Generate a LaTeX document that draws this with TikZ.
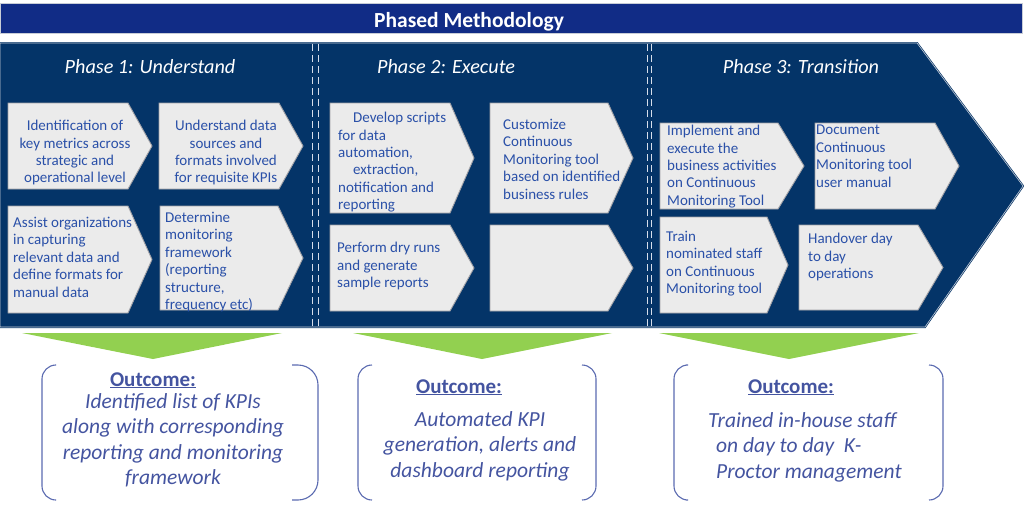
\documentclass[tikz,border=0pt]{standalone}
\usepackage{fontspec}
\setmainfont{Carlito}
\definecolor{titlebar}{RGB}{17,44,134}
\definecolor{navy}{RGB}{4,52,104}
\definecolor{edgelight}{RGB}{200,205,215}
\definecolor{boxfill}{RGB}{235,235,235}
\definecolor{boxline}{RGB}{160,160,165}
\definecolor{boxblue}{RGB}{42,80,168}
\definecolor{outblue}{RGB}{68,84,160}
\definecolor{brblue}{RGB}{90,106,176}
\definecolor{leaf}{RGB}{146,208,80}
\definecolor{seplight}{RGB}{215,222,235}
\newcommand\drawchev[5]{\filldraw[chevbox] (#1,#2) -- (#3,#2) -- (#4,{(#2+#5)/2}) -- (#3,#5) -- (#1,#5) -- cycle;}
\tikzset{
  chevbox/.style={fill=boxfill, draw=boxline, line width=0.9pt},
  btext/.style={font=\fontsize{15}{17.4}\selectfont, text=boxblue, inner sep=0pt, align=left, anchor=north west},
  ctext/.style={btext, align=center, anchor=north},
  phase/.style={font=\fontsize{20.2}{24}\selectfont\itshape, text=white, inner sep=0pt, anchor=base},
  outhead/.style={font=\fontsize{21}{25}\selectfont\bfseries, text=outblue, inner sep=0pt, anchor=base},
  outtext/.style={font=\fontsize{21.5}{25.5}\selectfont\itshape, text=outblue, inner sep=0pt, align=center, anchor=north},
  bracket/.style={draw=brblue, line width=1.1pt, rounded corners=14pt},
  downarrow/.style={fill=leaf},
  sepline/.style={draw=seplight, line width=1pt, dash pattern=on 7pt off 4pt}
}
\begin{document}
\begin{tikzpicture}[x=1pt,y=-1pt]
\useasboundingbox (0,0) rectangle (1024,504);
% title bar
\filldraw[fill=titlebar, draw=edgelight, line width=0.6pt] (0,3) rectangle (1022,33);
\node[font=\fontsize{21.5}{25}\selectfont\bfseries, text=white, inner sep=0pt, anchor=base] (title) at (469,27) {Phased Methodology};
% main chevron
\filldraw[fill=navy, draw=navy, double=edgelight, double distance=0.6pt, line width=0.7pt]
  (0,43) -- (917,43) -- (1023,186) -- (925,327) -- (0,327) -- cycle;
% separators
\draw[sepline] (312,44) -- (312,327);
\draw[sepline] (318,44) -- (318,327);
\draw[sepline] (647,44) -- (647,327);
\draw[sepline] (651,44) -- (651,327);
% phase titles
\node[phase] (p1) at (150,73) {Phase 1: Understand};
\node[phase] (p2) at (446,73) {Phase 2: Execute};
\node[phase] (p3) at (801,73) {Phase 3: Transition};
% phase 1 boxes
\drawchev{8}{103}{128}{152}{189}
\drawchev{159}{103}{279}{303}{189}
\drawchev{8}{206}{128}{152}{313}
\drawchev{160}{206}{278}{303}{310}
\node[ctext] (ta) at (75,120) {Identification of\\key metrics across\\strategic and\\operational level};
\node[ctext] (tb) at (226,120) {Understand data\\sources and\\formats involved\\for requisite KPIs};
\node[btext] (tc) at (13,217) {Assist organizations\\in capturing\\relevant data and\\define formats for\\manual data};
\node[btext] (td) at (165,212) {Determine\\monitoring\\framework\\(reporting\\structure,\\frequency etc)};
% phase 2 boxes
\drawchev{330}{103}{450}{474}{213}
\drawchev{490}{103}{608}{633}{213}
\drawchev{330}{225}{450}{474}{311}
\drawchev{490}{225}{608}{633}{311}
\node[btext] (te) at (338,112) {\hspace*{15pt}Develop scripts\\for data\\automation,\\\hspace*{15pt}extraction,\\notification and\\reporting};
\node[btext] (tf) at (503,119) {Customize\\Continuous\\Monitoring tool\\based on identified\\business rules};
\node[btext] (tg) at (337,242) {Perform dry runs\\and generate\\sample reports};
% phase 3 boxes
\drawchev{660}{123}{778}{804}{209}
\drawchev{815}{123}{935}{959}{209}
\drawchev{660}{217}{767}{788}{313}
\drawchev{799}{225}{918}{943}{310}
\node[btext] (ti) at (667,125) {Implement and\\execute the\\business activities\\on Continuous\\Monitoring Tool};
\node[btext] (tj) at (816,125) {Document\\Continuous\\Monitoring tool\\user manual};
\node[btext] (tk) at (666,231) {Train\\nominated staff\\on Continuous\\Monitoring tool};
\node[btext] (tl) at (808,233) {Handover day\\to day\\operations};
% green arrows
\fill[downarrow] (22,333) -- (282,333) -- (153,359) -- cycle;
\fill[downarrow] (353,333) -- (612,333) -- (482,359) -- cycle;
\fill[downarrow] (659,333) -- (919,333) -- (789,359) -- cycle;
% brackets
\draw[bracket] (55,365) -- (42,365) -- (42,500) -- (55,500);
\draw[bracket, rounded corners=20pt] (292,365) -- (318,365) -- (318,500) -- (292,500);
\draw[bracket] (372,365) -- (358,365) -- (358,500) -- (372,500);
\draw[bracket] (582,365) -- (596,365) -- (596,500) -- (582,500);
\draw[bracket] (686,365) -- (674,365) -- (674,500) -- (686,500);
\draw[bracket] (929,365) -- (943,365) -- (943,500) -- (929,500);
% outcomes
\node[outhead] (o1) at (153,386) {\underline{Outcome:}};
\node[outtext] (o1t) at (173,393) {Identified list of KPIs\\along with corresponding\\reporting and monitoring\\framework};
\node[outhead] (o2) at (459,393) {\underline{Outcome:}};
\node[outtext] (o2t) at (480,411) {Automated KPI\\generation, alerts and\\dashboard reporting};
\node[outhead] (o3) at (791,393) {\underline{Outcome:}};
\node[outtext, align=left, anchor=north west] (o3t) at (708,412) {Trained in-house staff\\\hspace*{8pt}on day to day\ \ K-\\\hspace*{8pt}Proctor management};
\end{tikzpicture}
\end{document}
